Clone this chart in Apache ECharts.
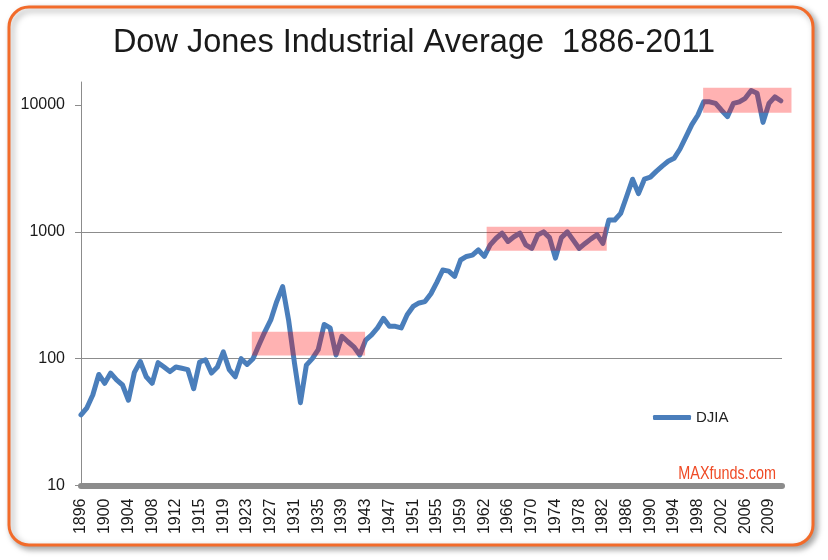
<!DOCTYPE html>
<html>
<head>
<meta charset="utf-8">
<script src="https://cdn.jsdelivr.net/npm/echarts@6/dist/echarts.min.js"></script>
<style>
html,body{margin:0;padding:0;background:#fff;}
#chart{width:828px;height:560px;}
</style>
</head>
<body>
<div id="chart"></div>
<script>
// Tick labels shown every 4 samples along the x axis
const tickLabels = ['1896','1900','1904','1908','1912','1915','1919','1923','1927','1931','1935','1939','1943','1947','1951','1955','1959','1962','1966','1970','1974','1978','1982','1986','1990','1994','1998','2002','2006','2009'];

// DJIA values, one sample per step (4 steps between tick labels)
const djia = [
  36, 41, 52, 75, 64, 77, 68, 62, 47, 78,
  95, 72, 64, 93, 86, 79, 86, 84, 82, 58,
  94, 98, 77, 86, 113, 82, 72, 100, 90, 100,
  128, 163, 202, 282, 370, 202, 92, 45, 89, 100,
  118, 186, 175, 107, 150, 136, 124, 107, 140, 154,
  175, 208, 180, 180, 175, 222, 258, 275, 282, 325,
  400, 500, 490, 445, 600, 640, 655, 720, 640, 790,
  890, 975, 840, 915, 975, 790, 740, 945, 1000, 900,
  620, 900, 1000, 860, 740, 810, 880, 950, 810, 1240,
  1240, 1400, 1900, 2600, 2000, 2600, 2700, 3000, 3300, 3600,
  3800, 4500, 5600, 7000, 8300, 10600, 10600, 10300, 9100, 8100,
  10300, 10600, 11300, 13000, 12400, 7300, 10300, 11600, 10800
];

// Sideways-market highlight boxes (x in sample steps, y in index points)
const boxStart = [28.8, 68.4, 104.9];
const boxEnd   = [47.9, 88.65, 119.8];
const boxLow   = [106, 711, 8710];
const boxHigh  = [163, 1099, 13710];

const yTicks = [10, 100, 1000, 10000];

const lineData = djia.map((v, i) => [i, v]);
const boxData = boxStart.map((s, i) => [s, boxEnd[i], boxLow[i], boxHigh[i]]);

const FONT = 'Liberation Sans, Arial, sans-serif';
const chart = echarts.init(document.getElementById('chart'));
chart.setOption({
  animation: false,
  backgroundColor: 'transparent',
  graphic: [
    {
      type: 'rect', z: -10, silent: true,
      shape: { x: 9, y: 7, width: 804, height: 538, r: 20 },
      style: {
        fill: '#fff', stroke: '#f26b2a', lineWidth: 3,
        shadowBlur: 6, shadowColor: 'rgba(0,0,0,0.35)', shadowOffsetX: 3, shadowOffsetY: 3
      }
    },
    {
      type: 'text', z: 10, silent: true,
      x: 776, y: 474, scaleX: 0.8,
      style: {
        text: 'MAXfunds.com', fill: '#ef4a25',
        textAlign: 'right', textVerticalAlign: 'middle',
        font: '18px ' + FONT
      }
    }
  ],
  title: {
    text: 'Dow Jones Industrial Average  1886-2011',
    left: 'center', top: 22,
    textStyle: { fontFamily: FONT, fontSize: 32.5, fontWeight: 'normal', color: '#1a1a1a' }
  },
  legend: {
    data: ['DJIA'],
    left: 648, top: 405,
    icon: 'roundRect',
    itemWidth: 38, itemHeight: 5, itemGap: 5,
    textStyle: { fontFamily: FONT, fontSize: 15, color: '#222' }
  },
  grid: { left: 81, right: 46, top: 82, bottom: 74.5 },
  xAxis: {
    type: 'value', min: 0, max: 118.2, interval: 4,
    axisLine: { show: true, lineStyle: { color: '#8c8c8c', width: 6 } },
    axisTick: { show: false },
    splitLine: { show: false },
    axisLabel: {
      rotate: 90, margin: 13, showMaxLabel: false,
      fontFamily: FONT, fontSize: 16, color: '#1a1a1a',
      formatter: function (v) {
        const k = Math.round(v / 4);
        return (Math.abs(v - k * 4) < 1e-6 && k < tickLabels.length) ? tickLabels[k] : '';
      }
    }
  },
  yAxis: {
    type: 'log', logBase: 10, min: 10, max: 15190,
    axisLine: { show: true, lineStyle: { color: '#8c8c8c', width: 1 } },
    axisTick: { show: true, length: 6, customValues: yTicks, lineStyle: { color: '#8c8c8c' } },
    splitLine: { show: true, showMaxLine: false, lineStyle: { color: '#8c8c8c', width: 1.2 } },
    axisLabel: {
      margin: 16, showMaxLabel: false,
      fontFamily: FONT, fontSize: 16, color: '#1a1a1a',
      formatter: function (v) { return yTicks.indexOf(Math.round(v)) >= 0 ? String(Math.round(v)) : ''; }
    }
  },
  series: [
    {
      name: 'DJIA', type: 'line', data: lineData, symbol: 'none', z: 2,
      lineStyle: { color: '#4a7ebb', width: 5, cap: 'round', join: 'round' },
      itemStyle: { color: '#4a7ebb' }
    },
    {
      name: 'boxes', type: 'custom', z: 3, silent: true,
      data: boxData,
      encode: { x: [0, 1], y: [2, 3] },
      clip: false,
      renderItem: function (params, api) {
        const p0 = api.coord([api.value(0), api.value(3)]);
        const p1 = api.coord([api.value(1), api.value(2)]);
        return {
          type: 'rect',
          shape: { x: p0[0], y: p0[1], width: p1[0] - p0[0], height: p1[1] - p0[1] },
          style: { fill: 'rgba(255,0,0,0.3)' }
        };
      }
    }
  ]
});
</script>
</body>
</html>
